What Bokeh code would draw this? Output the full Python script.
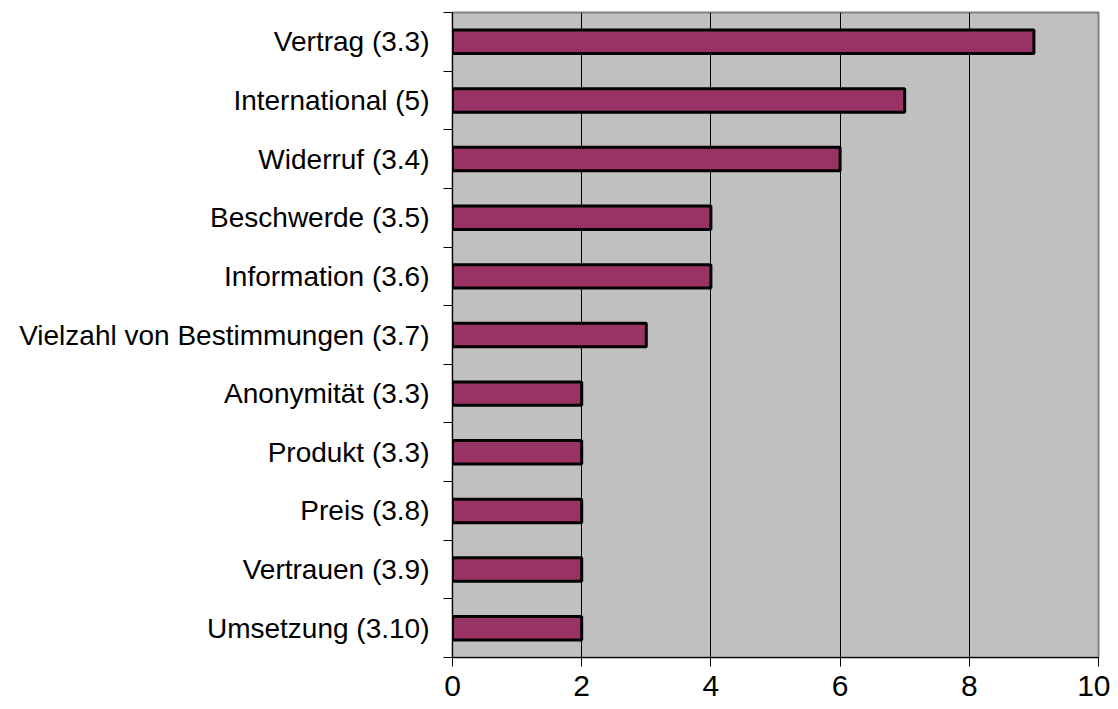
from bokeh.plotting import figure
from bokeh.models import FixedTicker, Range1d
from bokeh.embed import file_html
from bokeh.resources import INLINE

categories = ["Vertrag (3.3)", "International (5)", "Widerruf (3.4)", "Beschwerde (3.5)",
              "Information (3.6)", "Vielzahl von Bestimmungen (3.7)", "Anonymität (3.3)",
              "Produkt (3.3)", "Preis (3.8)", "Vertrauen (3.9)", "Umsetzung (3.10)"]
values = [9, 7, 6, 4, 4, 3, 2, 2, 2, 2, 2]
x_ticks = [0, 2, 4, 6, 8, 10]

n = len(categories)
ypos = [n - 0.5 - i for i in range(n)]

p = figure(width=1110, height=709, output_backend="svg", toolbar_location=None,
           x_range=Range1d(0, 10), y_range=Range1d(0, n),
           min_border_left=452, min_border_right=12, min_border_top=12, min_border_bottom=52)
p.background_fill_color = "#C0C0C0"
p.border_fill_color = "white"
p.outline_line_color = "#808080"
p.outline_line_width = 2

p.hbar(y=ypos, right=values, left=0, height=0.4, fill_color="#993366",
       line_color="black", line_width=3)

p.xaxis.ticker = FixedTicker(ticks=x_ticks)
p.xaxis.major_label_text_font = "Liberation Sans"
p.xaxis.major_label_text_font_size = "30px"
p.xaxis.major_label_text_color = "black"
p.xaxis.major_tick_out = 9
p.xaxis.major_tick_in = 0
p.xaxis.minor_tick_line_color = None
p.xaxis.major_label_standoff = 9
p.xaxis.axis_line_color = "black"

p.yaxis.ticker = FixedTicker(ticks=ypos, minor_ticks=list(range(n + 1)))
p.yaxis.major_label_overrides = {y: c for y, c in zip(ypos, categories)}
p.yaxis.major_label_text_font = "Liberation Sans"
p.yaxis.major_label_text_font_size = "28px"
p.yaxis.major_label_text_color = "black"
p.yaxis.major_tick_line_color = None
p.yaxis.minor_tick_out = 9
p.yaxis.minor_tick_in = 0
p.yaxis.minor_tick_line_color = "black"
p.yaxis.major_label_standoff = 14
p.yaxis.axis_line_color = "black"

p.xgrid.ticker = FixedTicker(ticks=[2, 4, 6, 8])
p.xgrid.grid_line_color = "black"
p.xgrid.grid_line_width = 1
p.ygrid.grid_line_color = None

open("out.html", "w").write(file_html(p, INLINE))
